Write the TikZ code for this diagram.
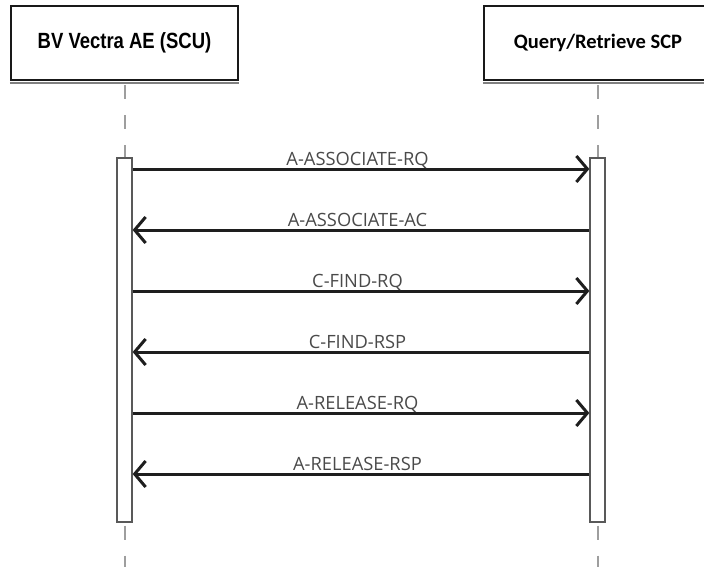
\documentclass[tikz,border=0pt]{standalone}
\usepackage{fontspec}
\setmainfont{Open Sans}
\newfontfamily\hdrA{Liberation Sans}[FakeStretch=0.84]
\newfontfamily\hdrB{Carlito}
\usetikzlibrary{arrows.meta}
\definecolor{msg}{HTML}{1E1E1E}
\definecolor{lbltext}{HTML}{4A4A4A}
\begin{document}
\begin{tikzpicture}[x=1pt,y=-1pt,
 actor/.style={draw=black!90, line width=2.4pt, fill=white, minimum width=227pt, minimum height=74pt, inner sep=0pt},
 actbar/.style={draw=black!65, line width=1.3pt, fill=white, minimum width=15pt, minimum height=364pt, inner sep=0pt},
 lifeline/.style={draw=black!38, line width=2pt, dash pattern=on 14pt off 16pt, dash phase=27pt},
 msgline/.style={draw=msg, line width=3pt, -{Straight Barb[length=11pt,width=26pt]}},
 shadowline/.style={draw=black!50, line width=1.4pt},
 lbl/.style={text=lbltext, font=\fontsize{18.3}{22}\selectfont, anchor=base, inner sep=0pt}]
\clip (0,0) rectangle (704,567);
\useasboundingbox (0,0) rectangle (704,567);
\node[actor] (scu) at (124.5,43) {\hdrA\bfseries\fontsize{22}{26}\selectfont BV Vectra AE (SCU)};
\node[actor, minimum width=228pt] (scp) at (598,43) {\hdrB\bfseries\fontsize{20.5}{24}\selectfont Query/Retrieve SCP};
\draw[shadowline] ([shift={(0,1.7)}]scu.south west) -- ([shift={(0,1.7)}]scu.south east);
\draw[shadowline] ([shift={(0,1.7)}]scp.south west) -- ([shift={(0,1.7)}]scp.south east);
\node[actbar] (actL) at (124.5,340) {};
\node[actbar] (actR) at (597.5,340) {};
\coordinate (endL) at (124.5,567);
\coordinate (endR) at (597.5,567);
\draw[lifeline] ([yshift=-1.2pt]scu.south) -- (actL.north);
\draw[lifeline] ([yshift=-1.2pt]scp.south -| actR.north) -- (actR.north);
\draw[lifeline] (actL.south) -- (endL);
\draw[lifeline] (actR.south) -- (endR);
\draw[msgline] (actL.east |- 0,169) -- (actR.west |- 0,169);
\draw[msgline] (actR.west |- 0,230) -- (actL.east |- 0,230);
\draw[msgline] (actL.east |- 0,291) -- (actR.west |- 0,291);
\draw[msgline] (actR.west |- 0,352) -- (actL.east |- 0,352);
\draw[msgline] (actL.east |- 0,413) -- (actR.west |- 0,413);
\draw[msgline] (actR.west |- 0,474) -- (actL.east |- 0,474);
\node[lbl] (l1) at (357.5,165) {A-ASSOCIATE-RQ};
\node[lbl] (l2) at (357.5,226) {A-ASSOCIATE-AC};
\node[lbl] (l3) at (357.5,287) {C-FIND-RQ};
\node[lbl] (l4) at (357.5,348) {C-FIND-RSP};
\node[lbl] (l5) at (357.5,409) {A-RELEASE-RQ};
\node[lbl] (l6) at (357.5,470) {A-RELEASE-RSP};
\end{tikzpicture}
\end{document}
